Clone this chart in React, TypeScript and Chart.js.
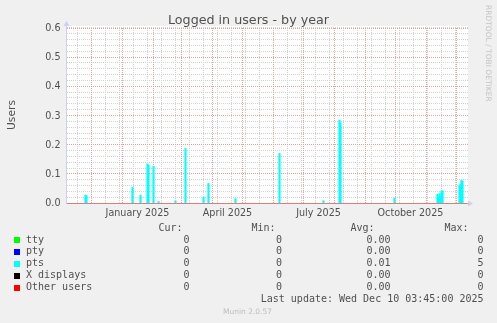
import React, { useEffect, useRef } from "react";
import { Chart, registerables } from "chart.js";

Chart.register(...registerables);

// ---- data ----
const START_DATE = "2024-11-05"; // 400 days before last update
const X_MIN = 0.5;
const X_MAX = 401.5;

const ptsDates = [
  "2024-11-25", "2024-11-26", "2025-01-11", "2025-01-19", "2025-01-26", "2025-01-27",
  "2025-02-01", "2025-02-06", "2025-02-23", "2025-03-05", "2025-03-23", "2025-03-28",
  "2025-04-24", "2025-06-07", "2025-07-21", "2025-08-06", "2025-08-07", "2025-09-30",
  "2025-11-12", "2025-11-13", "2025-11-14", "2025-11-15", "2025-11-16", "2025-11-17",
  "2025-12-04", "2025-12-05", "2025-12-06", "2025-12-07",
];
const ptsValues = [
  0.027, 0.025, 0.054, 0.027, 0.134, 0.13,
  0.126, 0.005, 0.007, 0.187, 0.02, 0.067,
  0.015, 0.17, 0.008, 0.284, 0.275, 0.017,
  0.03, 0.018, 0.032, 0.022, 0.04, 0.042,
  0.06, 0.065, 0.078, 0.075,
];

const seriesNames = ["tty", "pty", "pts", "X displays", "Other users"];
const seriesColors = ["#00FF00", "#0000FF", "#00FFFF", "#000000", "#FF0000"];
const curValues = ["0", "0", "0", "0", "0"];
const minValues = ["0", "0", "0", "0", "0"];
const avgValues = ["0.00", "0.00", "0.01", "0.00", "0.00"];
const maxValues = ["0", "0", "5", "0", "0"];

const yTicks = [0, 0.1, 0.2, 0.3, 0.4, 0.5, 0.6];
const yTickLabels = ["0.0", "0.1", "0.2", "0.3", "0.4", "0.5", "0.6"];
const yMinorStep = 0.02;

const xLabels = ["January 2025", "April 2025", "July 2025", "October 2025"];
const xLabelDates = ["2025-01-16", "2025-04-16", "2025-07-16", "2025-10-16"];
const monthStartDates = [
  "2024-12-01", "2025-01-01", "2025-02-01", "2025-03-01", "2025-04-01", "2025-05-01",
  "2025-06-01", "2025-07-01", "2025-08-01", "2025-09-01", "2025-10-01", "2025-11-01",
  "2025-12-01",
];
const minorGridFirst = "2024-11-17"; // biweekly Sundays
const minorGridEveryDays = 14;

const title = "Logged in users - by year";
const yTitle = "Users";
const lastUpdate = "Last update: Wed Dec 10 03:45:00 2025";
const footer = "Munin 2.0.57";
const watermark = "RRDTOOL / TOBI OETIKER";

const dayOf = (d: string) =>
  (Date.parse(d + "T00:00:00Z") - Date.parse(START_DATE + "T00:00:00Z")) / 86400000;

const TEXT = "#505050";
const SANS = "'DejaVu Sans', sans-serif";
const MONO = "'DejaVu Sans Mono', monospace";

const muninPlugin = {
  id: "munin",
  beforeDraw(chart: any) {
    const ctx = chart.ctx as CanvasRenderingContext2D;
    const { left, right, top, bottom } = chart.chartArea;
    const xs = chart.scales.x;
    const ys = chart.scales.y;
    ctx.save();
    ctx.fillStyle = "#F0F0F0";
    ctx.fillRect(0, 0, chart.width, chart.height);
    ctx.fillStyle = "#FFFFFF";
    ctx.fillRect(left, top - 2, right - left + 1, bottom - top + 3);

    ctx.lineWidth = 1;
    ctx.setLineDash([1, 1]);
    // minor grid
    ctx.strokeStyle = "#D2D2D2";
    ctx.beginPath();
    for (let v = 0; v <= 0.6001; v += yMinorStep) {
      const y = Math.floor(ys.getPixelForValue(v)) + 0.5;
      ctx.moveTo(left + 1, y);
      ctx.lineTo(right + 1, y);
    }
    for (let d = dayOf(minorGridFirst); d < X_MAX; d += minorGridEveryDays) {
      const x = Math.floor(xs.getPixelForValue(d)) + 0.5;
      ctx.moveTo(x, top);
      ctx.lineTo(x, bottom);
    }
    ctx.stroke();
    // major grid
    ctx.strokeStyle = "#E6A2A2";
    ctx.beginPath();
    yTicks.forEach((v) => {
      const y = Math.floor(ys.getPixelForValue(v)) + 0.5;
      ctx.moveTo(left + 1, y);
      ctx.lineTo(right + 1, y);
    });
    monthStartDates.forEach((d) => {
      const x = Math.floor(xs.getPixelForValue(dayOf(d))) + 0.5;
      ctx.moveTo(x, top);
      ctx.lineTo(x, bottom);
    });
    ctx.stroke();
    ctx.restore();
  },
  afterDatasetsDraw(chart: any) {
    const ctx = chart.ctx as CanvasRenderingContext2D;
    const { left, right, top, bottom } = chart.chartArea;
    const ys = chart.scales.y;
    ctx.save();
    // zero line (Other users)
    const y0 = Math.floor(ys.getPixelForValue(0)) + 0.5;
    ctx.strokeStyle = "#E57A7A";
    ctx.lineWidth = 1.2;
    ctx.beginPath();
    ctx.moveTo(left, y0);
    ctx.lineTo(right + 1, y0);
    ctx.stroke();
    // axes
    ctx.strokeStyle = "#CBD0F4";
    ctx.lineWidth = 1;
    ctx.beginPath();
    ctx.moveTo(left + 0.5, bottom + 1);
    ctx.lineTo(left + 0.5, top - 4);
    ctx.stroke();
    ctx.fillStyle = "#CBD0F4";
    ctx.beginPath();
    ctx.moveTo(left - 2.5, top - 2);
    ctx.lineTo(left + 3.5, top - 2);
    ctx.lineTo(left + 0.5, top - 7);
    ctx.closePath();
    ctx.fill();
    ctx.beginPath();
    ctx.moveTo(right + 1, y0 - 3);
    ctx.lineTo(right + 1, y0 + 3);
    ctx.lineTo(right + 6, y0);
    ctx.closePath();
    ctx.fill();
    ctx.restore();
  },
  afterDraw(chart: any) {
    const ctx = chart.ctx as CanvasRenderingContext2D;
    const xs = chart.scales.x;
    const ys = chart.scales.y;
    ctx.save();
    // title
    ctx.fillStyle = TEXT;
    ctx.font = `12.7px ${SANS}`;
    ctx.textAlign = "center";
    ctx.textBaseline = "alphabetic";
    ctx.fillText(title, 248.5, 23.5);
    // y tick labels
    ctx.font = `9.6px ${SANS}`;
    ctx.textAlign = "right";
    ctx.textBaseline = "middle";
    yTicks.forEach((v, i) => {
      ctx.fillText(yTickLabels[i], 60.5, ys.getPixelForValue(v) + 0.5);
    });
    // x labels
    ctx.textAlign = "center";
    ctx.textBaseline = "alphabetic";
    xLabels.forEach((l, i) => {
      ctx.fillText(l, xs.getPixelForValue(dayOf(xLabelDates[i])), 216);
    });
    // y title
    ctx.save();
    ctx.font = `10.7px ${SANS}`;
    ctx.translate(15, 115);
    ctx.rotate(-Math.PI / 2);
    ctx.textAlign = "center";
    ctx.fillText(yTitle, 0, 0);
    ctx.restore();
    // watermark
    ctx.save();
    ctx.fillStyle = "#C4C4C4";
    ctx.font = `7.5px ${SANS}`;
    ctx.translate(485.5, 5);
    ctx.rotate(Math.PI / 2);
    ctx.textAlign = "left";
    ctx.textBaseline = "alphabetic";
    ctx.fillText(watermark, 0, 0);
    ctx.restore();
    // legend
    ctx.font = `10px ${MONO}`;
    ctx.textBaseline = "middle";
    ctx.fillStyle = TEXT;
    const rowY0 = 228;
    const rowH = 11.95;
    ctx.textAlign = "right";
    ctx.fillText("Cur:", 182.5, rowY0);
    ctx.fillText("Min:", 275.5, rowY0);
    ctx.fillText("Avg:", 374.5, rowY0);
    ctx.fillText("Max:", 468.5, rowY0);
    seriesNames.forEach((name, i) => {
      const y = rowY0 + rowH * (i + 1);
      ctx.fillStyle = seriesColors[i];
      ctx.fillRect(14, Math.round(y) - 3, 6, 6);
      ctx.fillStyle = TEXT;
      ctx.textAlign = "left";
      ctx.fillText(name, 26, y);
      ctx.textAlign = "right";
      ctx.fillText(curValues[i], 189.5, y);
      ctx.fillText(minValues[i], 282, y);
      ctx.fillText(avgValues[i], 390.5, y);
      ctx.fillText(maxValues[i], 483.5, y);
    });
    ctx.textAlign = "right";
    ctx.fillText(lastUpdate, 483.5, rowY0 + rowH * 6);
    // footer
    ctx.fillStyle = "#BDBDBD";
    ctx.font = `7.5px ${SANS}`;
    ctx.textAlign = "center";
    ctx.fillText(footer, 247.5, 312);
    ctx.restore();
  },
};

export default function App() {
  const ref = useRef<HTMLCanvasElement | null>(null);
  useEffect(() => {
    if (!ref.current) return;
    const chart = new Chart(ref.current, {
      type: "bar",
      data: {
        datasets: [
          {
            label: "pts",
            data: ptsDates.map((d, i) => ({ x: dayOf(d), y: ptsValues[i] })),
            backgroundColor: "#00FFFF",
            borderWidth: 0,
            barThickness: 1.5,
            grouped: false,
          } as any,
        ],
      },
      options: {
        animation: false,
        responsive: false,
        maintainAspectRatio: false,
        devicePixelRatio: 1,
        events: [],
        layout: { padding: { left: 66, right: 30, top: 28, bottom: 120 } },
        scales: {
          x: { type: "linear", min: X_MIN, max: X_MAX, offset: false, display: false },
          y: { type: "linear", min: 0, max: 0.6, display: false },
        },
        plugins: { legend: { display: false }, tooltip: { enabled: false } },
      },
      plugins: [muninPlugin],
    });
    return () => chart.destroy();
  }, []);
  return (
    <div style={{ position: "fixed", left: 0, top: 0, width: 497, height: 323 }}>
      <canvas ref={ref} width={497} height={323} style={{ width: 497, height: 323, display: "block" }} />
    </div>
  );
}
